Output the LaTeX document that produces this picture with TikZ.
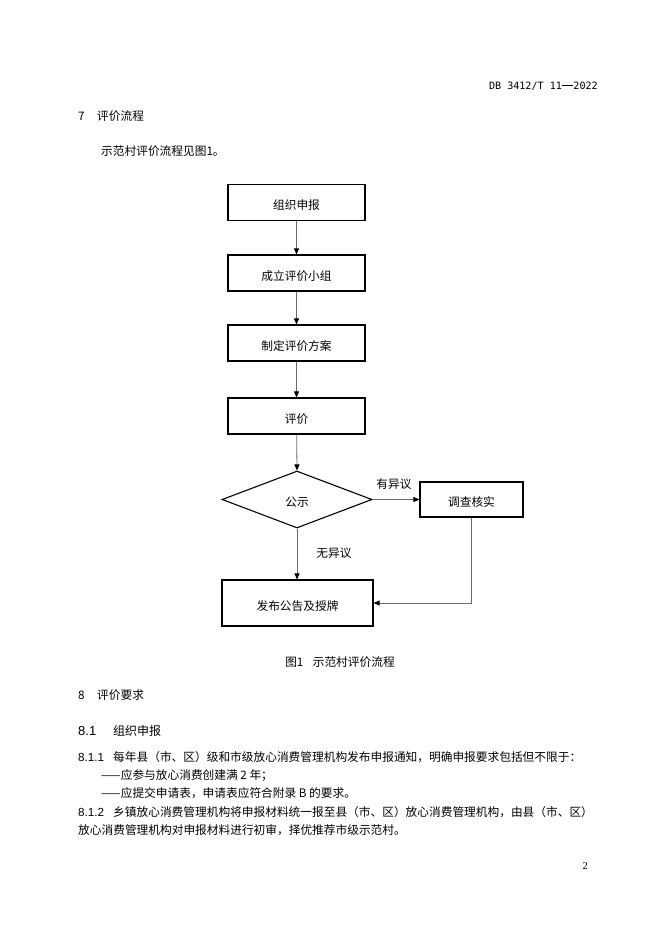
\documentclass[tikz,border=0pt]{standalone}
\usepackage{fontspec}
\setmainfont{Noto Sans CJK SC}
\newfontfamily\cjkfnt{Noto Sans CJK SC}
\newfontfamily\monofnt{DejaVu Sans Mono}
\newfontfamily\latfnt{Liberation Sans}
\newfontfamily\serfnt{Liberation Serif}
\usetikzlibrary{arrows.meta,shapes.geometric}
\newcommand\fsz{\fontsize{11.7}{14}\selectfont}
\begin{document}
\begin{tikzpicture}[x=1pt,y=-1pt,
  txt/.style={anchor=west,inner sep=0pt,font=\fsz},
  box/.style={draw=black,line width=1.1pt,inner sep=0pt,font=\fsz,
    text height=16pt,text depth=1.4pt,minimum width=137pt,minimum height=36pt},
  dia/.style={draw=black,line width=1.1pt,diamond,inner sep=0pt,font=\fsz,
    text height=16pt,text depth=1.4pt,minimum width=150pt,minimum height=57pt},
  conn/.style={draw=gray!85!black,line width=0.8pt,-{Triangle[length=6pt,width=5pt,black]}},
  lbl/.style={inner sep=0pt,font=\fsz}]
\useasboundingbox[fill=white] (0,0) rectangle (662,936);

% header
\node[anchor=east,inner sep=0pt,font=\monofnt\fontsize{10.1}{12}\selectfont] (hdr) at (598,86) {DB 3412/T 11\hspace{0.5pt}\rule[3.2pt]{10.5pt}{0.6pt}\hspace{0.5pt}2022};
\node[txt] (h7n) at (78,116) {7};
\node[txt] (h7) at (97,116) {评价流程};
\node[txt] (p1) at (101,151) {示范村评价流程见图1。};

% flowchart
\node[box] (b1) at (296.5,202.5) {组织申报};
\node[box] (b2) at (296.5,273) {成立评价小组};
\node[box] (b3) at (296.5,343) {制定评价方案};
\node[box] (b4) at (296.5,416) {评价};
\node[dia] (gs) at (297,499.5) {公示};
\node[box,minimum width=103pt,minimum height=35pt] (chk) at (471.5,499.5) {调查核实};
\node[box,minimum width=151pt,minimum height=46pt] (pub) at (297.5,603) {发布公告及授牌};

\draw[conn] (b1) -- (b2);
\draw[conn] (b2) -- (b3);
\draw[conn] (b3) -- (b4);
\draw[conn] (b4) -- (gs.north);
\draw[conn] (gs.east) -- (chk.west);
\draw[conn] (gs.south) -- (gs.south |- pub.north);
\draw[conn] (chk.south) |- (pub.east);
\node[lbl] (yy) at (394,484) {有异议};
\node[lbl] (wy) at (334,553) {无异议};

\node[inner sep=0pt,font=\fsz] (cap) at (340,662) {图1\hspace{0.8em}示范村评价流程};

% section 8
\node[txt] (h8n) at (78,695) {8};
\node[txt] (h8) at (97,695) {评价要求};
\node[txt,font=\latfnt\fontsize{13}{15}\selectfont] (h81n) at (78,731) {8.1};
\node[txt,font=\fontsize{12}{14}\selectfont] (h81) at (113,731) {组织申报};

\node[txt,font=\latfnt\fontsize{11.7}{14}\selectfont] (n811) at (78,757) {8.1.1};
\node[txt] (t811) at (113,757) {每年县（市、区）级和市级放心消费管理机构发布申报通知，明确申报要求包括但不限于：};
\node[txt] (d1) at (101,775) {——应参与放心消费创建满 2 年；};
\node[txt] (d2) at (101,793) {——应提交申请表，申请表应符合附录 B 的要求。};
\node[txt,font=\latfnt\fontsize{11.7}{14}\selectfont] (n812) at (78,812) {8.1.2};
\node[txt] (t812) at (113,812) {乡镇放心消费管理机构将申报材料统一报至县（市、区）放心消费管理机构，由县（市、区）};
\node[txt] (t812b) at (78,830) {放心消费管理机构对申报材料进行初审，择优推荐市级示范村。};

\node[anchor=east,inner sep=0pt,font=\serfnt\fontsize{10.5}{12}\selectfont] (pg) at (588,866) {2};
\end{tikzpicture}
\end{document}
